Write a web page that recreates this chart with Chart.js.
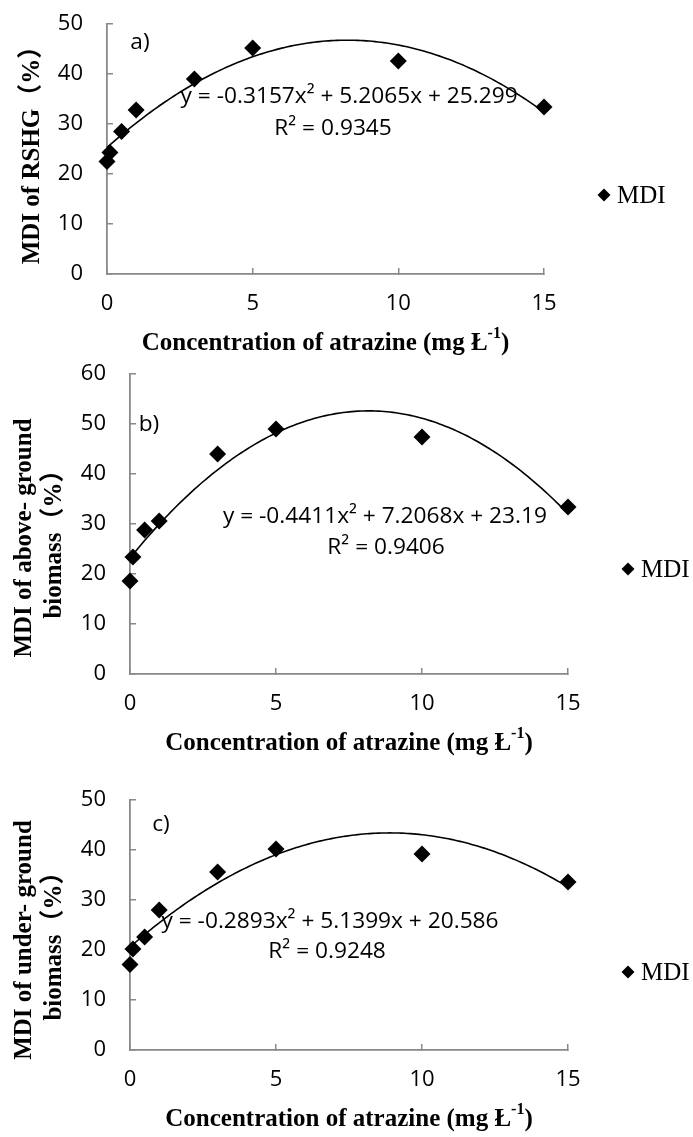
<!DOCTYPE html>
<html>
<head>
<meta charset="utf-8">
<script src="https://cdn.jsdelivr.net/npm/chart.js@4.4.0/dist/chart.umd.min.js"></script>
<style>
  body { margin: 0; background: #fff; }
  .wrap { position: relative; width: 693px; height: 1137px; }
  canvas { position: absolute; left: 0; }
</style>
</head>
<body>
<div class="wrap">
  <canvas id="chartA" width="693" height="370" style="top:0px"></canvas>
  <canvas id="chartB" width="693" height="420" style="top:340px"></canvas>
  <canvas id="chartC" width="693" height="377" style="top:760px"></canvas>
</div>
<script>
// atrazine concentrations (mg/L) and MDI values (%)
const concentration = [0, 0.1, 0.5, 1, 3, 5, 10, 15];
const mdiRSHG = [22.5, 24.3, 28.5, 32.8, 39.0, 45.2, 42.6, 33.4];
const mdiAboveGround = [18.6, 23.4, 28.8, 30.6, 44.0, 49.0, 47.4, 33.4];
const mdiUnderGround = [17.1, 20.2, 22.6, 28.0, 35.6, 40.2, 39.2, 33.6];

// quadratic trendlines, y = a*x^2 + b*x + c
const fitRSHG = [-0.3157, 5.2065, 25.299];
const fitAboveGround = [-0.4411, 7.2068, 23.19];
const fitUnderGround = [-0.2893, 5.1399, 20.586];
const r2Values = ['0.9345', '0.9406', '0.9248'];

const xTicks = [0, 5, 10, 15];
const yMaxes = [50, 60, 50];
const panelLetters = ['a)', 'b)', 'c)'];
const yTitles = [
  ['MDI of RSHG（%）'],
  ['MDI of above- ground', 'biomass（%）'],
  ['MDI of under- ground', 'biomass（%）']
];
const xTitle = 'Concentration of atrazine (mg Ł';
const xTitleSup = '-1';
const seriesName = 'MDI';

const SANS = '"Open Sans", sans-serif';
const SERIF = '"Liberation Serif", "Noto Sans CJK SC", serif';
const AXIS_GREY = '#898989';

function eqText(fit) {
  return `y = ${fit[0]}x² + ${fit[1]}x + ${fit[2]}`;
}

function trendPoints(fit) {
  const pts = [];
  for (let i = 0; i <= 150; i++) {
    const x = i / 10;
    pts.push({ x: x, y: fit[0] * x * x + fit[1] * x + fit[2] });
  }
  return pts;
}

const decor = (p) => ({
  id: 'decor',
  beforeDatasetsDraw(chart) {
    const { ctx } = chart;
    const x = chart.scales.x, y = chart.scales.y;
    ctx.save();
    ctx.fillStyle = '#000';
    ctx.font = '22.7px ' + SANS;
    ctx.textAlign = 'center';
    ctx.textBaseline = 'middle';
    ctx.fillText(p.letter, x.getPixelForValue(p.letterAt[0]), y.getPixelForValue(p.letterAt[1]));
    ctx.fillText(eqText(p.fit), x.getPixelForValue(p.eqAt[0]), y.getPixelForValue(p.eqAt[1]));
    ctx.fillText('R² = ' + p.r2, x.getPixelForValue(p.r2At[0]), y.getPixelForValue(p.r2At[1]));
    ctx.restore();
  },
  afterDraw(chart) {
    const { ctx, chartArea } = chart;
    ctx.save();
    ctx.fillStyle = '#000';

    // y axis title, rotated
    ctx.font = 'bold 25px ' + SERIF;
    ctx.textAlign = 'center';
    ctx.textBaseline = 'middle';
    const cy = (chartArea.top + chartArea.bottom) / 2 + p.yTitleShift;
    p.yTitle.forEach((line, i) => {
      ctx.save();
      ctx.translate(p.yTitleX[i], cy);
      ctx.rotate(-Math.PI / 2);
      ctx.fillText(line, 0, 0);
      ctx.restore();
    });

    // x axis title with superscript
    ctx.textAlign = 'left';
    ctx.textBaseline = 'alphabetic';
    const mainFont = 'bold 25px ' + SERIF;
    const supFont = 'bold 16px ' + SERIF;
    ctx.font = mainFont;
    const w1 = ctx.measureText(xTitle).width;
    const w3 = ctx.measureText(')').width;
    ctx.font = supFont;
    const w2 = ctx.measureText(xTitleSup).width;
    const tx = (chartArea.left + chartArea.right) / 2 - (w1 + w2 + w3) / 2;
    const base = chartArea.bottom + 76;
    ctx.font = mainFont;
    ctx.fillText(xTitle, tx, base);
    ctx.font = supFont;
    ctx.fillText(xTitleSup, tx + w1, base - 12);
    ctx.font = mainFont;
    ctx.fillText(')', tx + w1 + w2, base);

    // legend
    const lx = chartArea.right + 60;
    const ly = chartArea.top + p.legendY;
    Chart.helpers.drawPoint(ctx, { pointStyle: 'rectRot', radius: 6.5, borderWidth: 0 }, lx, ly);
    ctx.font = '25px ' + SERIF;
    ctx.textBaseline = 'middle';
    ctx.fillText(seriesName, lx + 13, ly + 1);
    ctx.restore();
  }
});

function makePanel(id, values, fit, i, p) {
  const canvas = document.getElementById(id);
  const area = p.area;
  const points = concentration.map((c, k) => ({ x: c, y: values[k] }));
  return new Chart(canvas, {
    type: 'scatter',
    data: {
      datasets: [
        {
          label: 'trend',
          data: trendPoints(fit),
          showLine: true,
          borderColor: '#000',
          borderWidth: 1.6,
          pointRadius: 0,
          clip: false
        },
        {
          label: seriesName,
          data: points,
          pointStyle: 'rectRot',
          pointRadius: 8.5,
          backgroundColor: '#000',
          borderColor: '#000',
          borderWidth: 0,
          clip: false
        }
      ]
    },
    options: {
      responsive: false,
      devicePixelRatio: 1,
      animation: false,
      layout: {
        autoPadding: false,
        padding: { top: area.top, right: canvas.width - area.right, left: 0, bottom: 0 }
      },
      plugins: {
        legend: { display: false },
        tooltip: { enabled: false }
      },
      scales: {
        x: {
          type: 'linear',
          min: xTicks[0],
          max: xTicks[xTicks.length - 1],
          afterBuildTicks: (s) => { s.ticks = xTicks.map(v => ({ value: v })); },
          afterFit: (s) => {
            s.height = canvas.height - area.bottom;
            s.paddingLeft = s.paddingRight = 0;
          },
          grid: { drawOnChartArea: false, color: AXIS_GREY, lineWidth: 1.5, tickLength: -6 },
          border: { color: AXIS_GREY, width: 1.8 },
          ticks: { color: '#000', padding: 23, font: { family: SANS, size: 22 } }
        },
        y: {
          min: 0,
          max: yMaxes[i],
          afterFit: (s) => {
            s.width = area.left;
            s.paddingTop = s.paddingBottom = 0;
          },
          grid: { drawOnChartArea: false, color: AXIS_GREY, lineWidth: 1.5, tickLength: -6 },
          border: { color: AXIS_GREY, width: 1.8 },
          ticks: { stepSize: 10, color: '#000', padding: 30, font: { family: SANS, size: 22 } }
        }
      }
    },
    plugins: [decor({
      letter: panelLetters[i],
      fit: fit,
      r2: r2Values[i],
      letterAt: p.letterAt,
      eqAt: p.eqAt,
      r2At: p.r2At,
      yTitle: yTitles[i],
      yTitleX: p.yTitleX,
      yTitleShift: p.yTitleShift,
      legendY: p.legendY
    })]
  });
}

makePanel('chartA', mdiRSHG, fitRSHG, 0, {
  area: { top: 24, bottom: 274, left: 107, right: 544 },
  letterAt: [1.13, 46.2], eqAt: [8.31, 35.4], r2At: [7.76, 29.0],
  yTitleX: [33], yTitleShift: 0, legendY: 171
});
makePanel('chartB', mdiAboveGround, fitAboveGround, 1, {
  area: { top: 34, bottom: 334, left: 130, right: 568 },
  letterAt: [0.65, 49.8], eqAt: [8.73, 31.4], r2At: [8.77, 25.2],
  yTitleX: [25, 55], yTitleShift: 14, legendY: 195
});
makePanel('chartC', mdiUnderGround, fitUnderGround, 2, {
  area: { top: 40, bottom: 290, left: 130, right: 568 },
  letterAt: [1.06, 45.0], eqAt: [6.85, 25.6], r2At: [6.75, 19.6],
  yTitleX: [25, 55], yTitleShift: 15, legendY: 172
});
</script>
</body>
</html>
